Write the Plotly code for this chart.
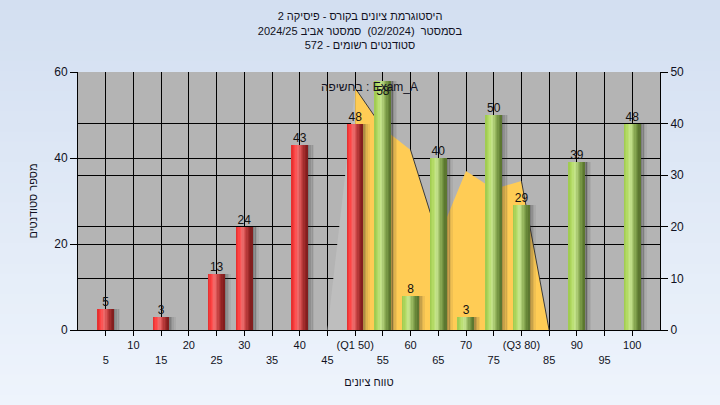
import numpy as np
import plotly.graph_objects as go

# ---------------- data ----------------
bins = [5, 10, 15, 20, 25, 30, 35, 40, 45, 50, 55, 60, 65, 70, 75, 80, 85, 90, 95, 100]
counts = [5, 0, 3, 0, 13, 24, 0, 43, 0, 48, 58, 8, 40, 3, 50, 29, 0, 39, 0, 48]
tick_labels = ["5", "10", "15", "20", "25", "30", "35", "40", "45", "(Q1 50)",
               "55", "60", "65", "70", "75", "(Q3 80)", "85", "90", "95", "100"]
q1_bin = 50  # bins up to Q1 drawn red, above drawn green

area_x = [45, 50, 55, 60, 65, 70, 75, 80, 85]
area_y = [0, 46.9, 39.1, 34.9, 17.8, 30.8, 27.3, 28.9, 0]
area_name = "בחשיפה : Exam_A"

title_lines = ["היסטוגרמת ציונים בקורס - פיסיקה 2",
               "בסמסטר  (02/2024)  סמסטר אביב 2024/25",
               "סטודנטים רשומים - 572"]
y_title = "מספר סטודנטים"
x_title = "טווח ציונים"

# ---------------- helpers ----------------
def hex2rgb(h):
    h = h.lstrip('#')
    return np.array([int(h[i:i + 2], 16) for i in (0, 2, 4)], dtype=float)

def grad(stops, t):
    pos = [s[0] for s in stops]
    cols = [hex2rgb(s[1]) for s in stops]
    for k in range(len(pos) - 1):
        if pos[k] <= t <= pos[k + 1]:
            f = (t - pos[k]) / (pos[k + 1] - pos[k])
            c = cols[k] * (1 - f) + cols[k + 1] * f
            return "rgb(%d,%d,%d)" % tuple(c.round())
    c = cols[-1]
    return "rgb(%d,%d,%d)" % tuple(c.round())

red_stops = [(0, '#E02C2C'), (0.2, '#FF4242'), (0.42, '#F07070'), (0.62, '#C84444'),
             (0.85, '#952424'), (1, '#7C1C1C')]
green_stops = [(0, '#9CC84E'), (0.2, '#B2DA62'), (0.42, '#C8E690'), (0.62, '#98B860'),
               (0.85, '#6A8A3A'), (1, '#56702C')]

fig = go.Figure()

# ---------------- area (primary y, right side) ----------------
fig.add_trace(go.Scatter(
    x=[area_x[0], area_x[1], area_x[1]], y=[area_y[0], area_y[1], 0],
    mode='lines', line=dict(width=0), fill='toself', fillcolor='#BEBEBE',
    hoverinfo='skip', showlegend=False, xaxis='x', yaxis='y'))
fig.add_trace(go.Scatter(
    x=area_x[1:], y=area_y[1:], mode='lines', line=dict(width=0),
    fill='tozeroy', fillcolor='#FFCC55', name=area_name, showlegend=False,
    xaxis='x', yaxis='y'))
ex, ey = [], []
for i in range(len(area_x) - 1):
    if area_y[i + 1] < area_y[i] - 5:
        ex += [area_x[i], area_x[i + 1], None]
        ey += [area_y[i], area_y[i + 1], None]
fig.add_trace(go.Scatter(x=ex, y=ey, mode='lines', line=dict(color='#3A3A3A', width=1),
                         hoverinfo='skip', showlegend=False, xaxis='x', yaxis='y'))

# ---------------- bars (y2, left side) ----------------
bx = np.array(bins)
bc = np.array(counts)
nz = bc > 0
W = 2.9
N = 12

# shadows
for j, a in enumerate([0.38, 0.26, 0.15, 0.07]):
    fig.add_trace(go.Bar(x=bx[nz], y=bc[nz], width=0.3, offset=W / 2 + j * 0.28,
                         marker=dict(color='rgba(40,40,40,%.2f)' % a, line=dict(width=0)),
                         hoverinfo='skip', showlegend=False, xaxis='x', yaxis='y2'))

for mask, stops in [((bx <= q1_bin) & nz, red_stops), ((bx > q1_bin) & nz, green_stops)]:
    for i in range(N):
        t = (i + 0.5) / N
        fig.add_trace(go.Bar(x=bx[mask], y=bc[mask], width=W / N * 1.15,
                             offset=-W / 2 + i * W / N,
                             marker=dict(color=grad(stops, t), line=dict(width=0)),
                             hoverinfo='skip', showlegend=False, xaxis='x', yaxis='y2'))

# value labels
label_ceiling = 54
fig.add_trace(go.Scatter(x=bx[nz], y=np.minimum(bc[nz], label_ceiling), text=[str(v) for v in bc[nz]],
                         mode='text', textposition='top center',
                         textfont=dict(family='Liberation Sans', size=12, color='#111111'),
                         hoverinfo='skip', showlegend=False, xaxis='x', yaxis='y2', cliponaxis=False))

# ---------------- background gradient ----------------
L, R, T, B = 78, 60, 72, 75
PW, PH = 720 - L - R, 405 - T - B
shapes = []
nstrip = 40
top_c, bot_c = hex2rgb('#D3DFF1'), hex2rgb('#EEF4FC')
for k in range(nstrip):
    f = k / (nstrip - 1)
    c = top_c * (1 - f) + bot_c * f
    y1p = 405 - k * 405 / nstrip
    y0p = 405 - (k + 1) * 405 / nstrip - 1
    shapes.append(dict(type='rect', xref='paper', yref='paper', layer='below',
                       x0=-L / PW - 0.01, x1=1 + R / PW + 0.01,
                       y0=(y0p - B) / PH, y1=(y1p - B) / PH,
                       fillcolor="rgb(%d,%d,%d)" % tuple(c.round()), line=dict(width=0)))
shapes.append(dict(type='rect', xref='paper', yref='paper', layer='below',
                   x0=0, x1=1, y0=0, y1=1, fillcolor='#B4B4B4', line=dict(width=0)))

# ---------------- layout ----------------
ticktext = [(t if i % 2 == 1 else "\u00a0<br>" + t) for i, t in enumerate(tick_labels)]
font_fam = 'Liberation Sans, Arial, sans-serif'
fig.update_layout(
    width=720, height=405,
    margin=dict(l=L, r=R, t=T, b=B, autoexpand=False),
    paper_bgcolor='#E2EBF7', plot_bgcolor='#B4B4B4',
    barmode='overlay', bargap=0,
    shapes=shapes,
    font=dict(family=font_fam, size=11, color='#111122'),
    title=dict(text="<br>".join(title_lines), x=0.5, xanchor='center', y=0.95, yanchor='top',
               font=dict(family=font_fam, size=11, color='#111122')),
    xaxis=dict(range=[0, 105], tickmode='array', tickvals=bins, ticktext=ticktext,
               showgrid=True, gridcolor='#000000', gridwidth=1,
               showline=True, linecolor='#000000', linewidth=1,
               ticks='outside', ticklen=5, tickcolor='#000000',
               tickfont=dict(size=11, color='#111122'), tickangle=0,
               title=dict(text=x_title, standoff=13, font=dict(size=11)),
               zeroline=False, fixedrange=True),
    yaxis=dict(range=[0, 50], dtick=10, side='right',
               showgrid=True, gridcolor='#000000', gridwidth=1,
               showline=True, linecolor='#000000', linewidth=1,
               ticks='outside', ticklen=7, tickcolor='#000000',
               tickfont=dict(size=12, color='#111122'), zeroline=False),
    yaxis2=dict(range=[0, 60], dtick=20, side='left', overlaying='y',
                showgrid=True, gridcolor='#000000', gridwidth=1,
                showline=True, linecolor='#000000', linewidth=1,
                ticks='outside', ticklen=7, tickcolor='#000000',
                tickfont=dict(size=12, color='#111122'), zeroline=False,
                title=dict(text=y_title, standoff=14, font=dict(size=11))),
    annotations=[dict(text=area_name, xref='paper', yref='paper', x=0.5, y=0.943,
                      xanchor='center', yanchor='middle', showarrow=False,
                      font=dict(family=font_fam, size=12, color='#111122'))],
    showlegend=False,
)

fig.write_html("out.html", config={'displayModeBar': False},
               post_script="document.body.style.margin='0';document.body.style.overflow='hidden';")
